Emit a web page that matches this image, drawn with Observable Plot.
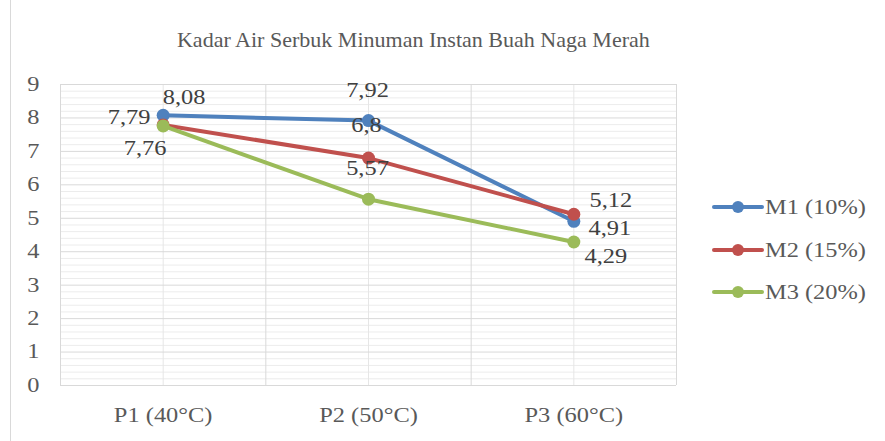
<!DOCTYPE html>
<html><head><meta charset="utf-8">
<script src="https://cdn.jsdelivr.net/npm/d3@7"></script>
<script src="https://cdn.jsdelivr.net/npm/@observablehq/plot@0.6"></script>
<style>
body{margin:0;background:#fff;}
#wrap{position:relative;width:885px;height:441px;overflow:hidden;font-family:"Liberation Serif","Times New Roman",serif;}
#wrap svg, #wrap svg *{font-family:"Liberation Serif","Times New Roman",serif !important;}
#border{position:absolute;left:10px;top:0;width:1px;height:441px;background:#d9d9d9;}
#title{position:absolute;left:0;width:826px;top:30px;text-align:center;font-size:21px;line-height:21px;color:#595959;white-space:nowrap;}
#title span{display:inline-block;transform-origin:center;}
.leg{position:absolute;left:712px;height:20px;}
.leg svg{position:absolute;left:0;top:0;}
.leg span{position:absolute;left:53px;top:-1px;font-size:20px;line-height:22px;color:#595959;white-space:nowrap;transform:scaleX(1.22);transform-origin:left center;}
</style></head>
<body><div id="wrap"><div id="border"></div></div>
<script>
const title = "Kadar Air Serbuk Minuman Instan Buah Naga Merah";
const categories = ["P1 (40°C)", "P2 (50°C)", "P3 (60°C)"];
const seriesNames = ["M1 (10%)", "M2 (15%)", "M3 (20%)"];
const m1 = [8.08, 7.92, 4.91];
const m2 = [7.79, 6.8, 5.12];
const m3 = [7.76, 5.57, 4.29];
const labelTexts = [["8,08", "7,92", "4,91"], ["7,79", "6,8", "5,12"], ["7,76", "5,57", "4,29"]];
const yTicks = [0, 1, 2, 3, 4, 5, 6, 7, 8, 9];
const colors = ["#4f81bd", "#c0504d", "#9bbb59"];
// label offsets in px (styling only)
const labelOffsets = [
  [[21, -18], [-1, -30], [36, 7]],
  [[-34, -7], [-2, -32], [37, -14]],
  [[-18, 23], [-1, -31], [32, 15]]
];

const seriesValues = [m1, m2, m3];
const rows = [];
seriesValues.forEach((vals, s) => vals.forEach((v, i) => rows.push({
  series: seriesNames[s], s, i, pos: i + 0.5, value: v, label: labelTexts[s][i]
})));

const minorTicks = d3.range(0, 9.0001, 0.2).filter(t => Math.abs(t - Math.round(t)) > 1e-6);
const serif = "'Liberation Serif','Times New Roman',serif";

const marks = [
  Plot.ruleY(minorTicks, {stroke: "#ececec", strokeWidth: 1}),
  Plot.ruleX([0.5, 1.5, 2.5], {stroke: "#e6e6e6", strokeWidth: 1}),
  Plot.ruleY(yTicks, {stroke: "#d9d9d9", strokeWidth: 1}),
  Plot.ruleX([0, 1, 2, 3], {stroke: "#d9d9d9", strokeWidth: 1}),
  Plot.axisY({ticks: yTicks, tickSize: 0, tickPadding: 21, fontSize: 20, fontFamily: serif, fill: "#595959", label: null, tickFormat: d => String(d)}),
  Plot.axisX({ticks: [0.5, 1.5, 2.5], tickFormat: d => categories[Math.floor(d)], tickSize: 0, tickPadding: 22, fontSize: 20, fontFamily: serif, fill: "#595959", label: null})
];
seriesValues.forEach((vals, s) => {
  const data = rows.filter(r => r.s === s);
  marks.push(Plot.line(data, {x: "pos", y: "value", stroke: colors[s], strokeWidth: 4, strokeLinejoin: "round", strokeLinecap: "round"}));
  marks.push(Plot.dot(data, {x: "pos", y: "value", fill: colors[s], r: 6.5, stroke: "none"}));
});
rows.forEach(r => {
  const [dx, dy] = labelOffsets[r.s][r.i];
  marks.push(Plot.text([r], {x: "pos", y: "value", text: "label", dx, dy, fontSize: 20, fontFamily: serif, fill: "#404040"}));
});

const chart = Plot.plot({
  width: 885, height: 441,
  marginLeft: 60, marginRight: 209, marginTop: 84, marginBottom: 56,
  x: {type: "linear", domain: [0, 3], label: null},
  y: {domain: [0, 9], label: null},
  style: {fontFamily: serif, background: "transparent", overflow: "visible"},
  marks
});
const wrap = document.getElementById("wrap");
chart.style.position = "absolute";
chart.style.left = "0";
chart.style.top = "0";
wrap.appendChild(chart);

chart.querySelectorAll("text").forEach(t => {
  const L = t.getComputedTextLength();
  if (L > 0) {
    t.setAttribute("textLength", (L * 1.22).toFixed(1));
    t.setAttribute("lengthAdjust", "spacingAndGlyphs");
  }
});

const td = document.createElement("div");
td.id = "title";
td.innerHTML = "<span></span>";
const ts = td.firstChild;
ts.textContent = title;
wrap.appendChild(td);
const tw = ts.getBoundingClientRect().width;
if (tw > 0) ts.style.transform = `scaleX(${(473 / tw).toFixed(3)})`;

const legY = [197, 240, 282];
seriesNames.forEach((name, s) => {
  const d = document.createElement("div");
  d.className = "leg";
  d.style.top = legY[s] + "px";
  d.innerHTML = `<svg width="52" height="20"><line x1="2" y1="10" x2="50" y2="10" stroke="${colors[s]}" stroke-width="4" stroke-linecap="round"/><circle cx="26" cy="10" r="6" fill="${colors[s]}"/></svg><span></span>`;
  d.querySelector("span").textContent = name;
  wrap.appendChild(d);
});
</script>
</body></html>
